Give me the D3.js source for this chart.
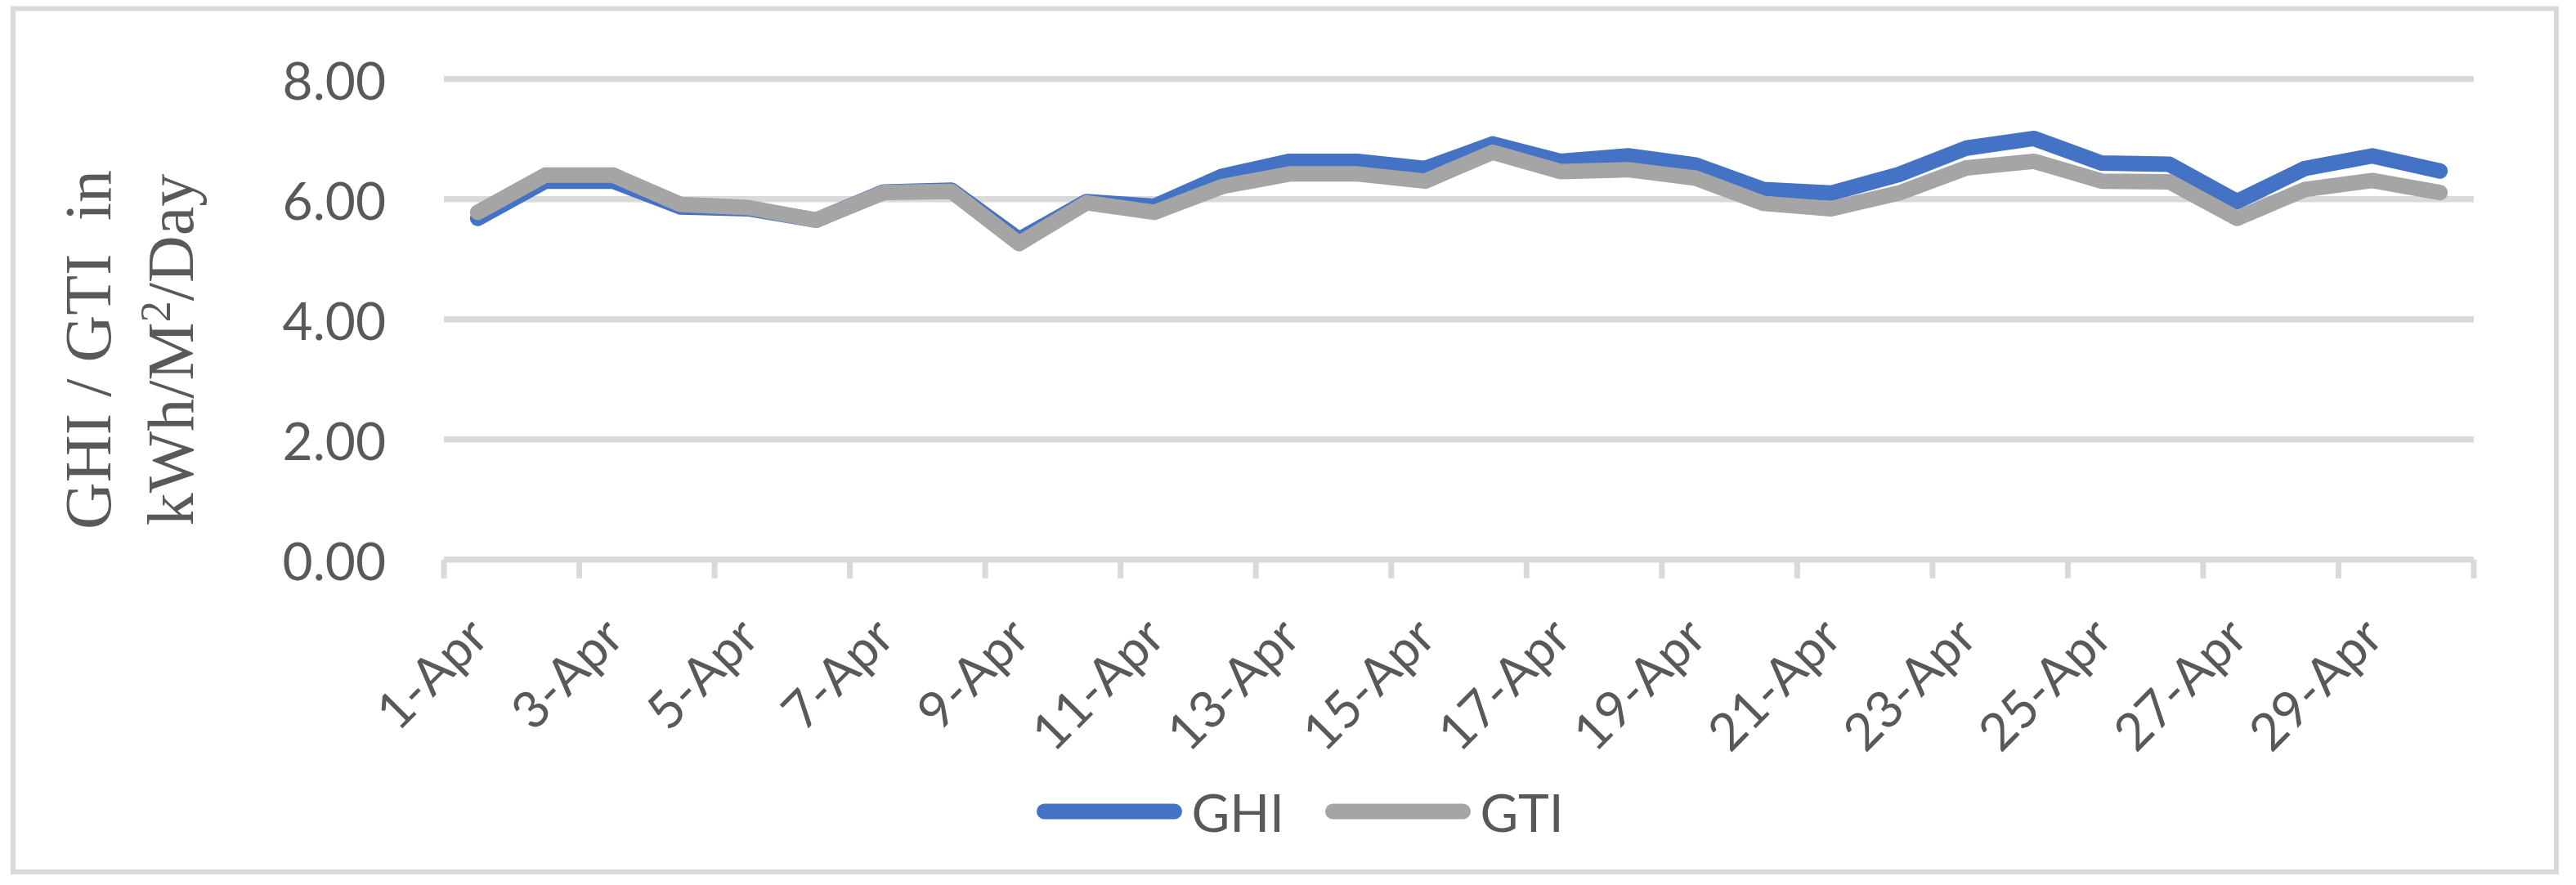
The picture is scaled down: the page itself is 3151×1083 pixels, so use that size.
<!DOCTYPE html>
<html>
<head>
<meta charset="utf-8">
<script src="https://cdn.jsdelivr.net/npm/d3@7"></script>
<style>
  html, body { margin: 0; padding: 0; background: #ffffff; }
  svg { display: block; }
</style>
</head>
<body>
<svg id="chart" width="3151" height="1083"></svg>
<script>
// ---------------- data ----------------
const days = ["1-Apr","2-Apr","3-Apr","4-Apr","5-Apr","6-Apr","7-Apr","8-Apr","9-Apr","10-Apr",
              "11-Apr","12-Apr","13-Apr","14-Apr","15-Apr","16-Apr","17-Apr","18-Apr","19-Apr","20-Apr",
              "21-Apr","22-Apr","23-Apr","24-Apr","25-Apr","26-Apr","27-Apr","28-Apr","29-Apr","30-Apr"];
const ghi = [5.68, 6.30, 6.30, 5.87, 5.84, 5.65, 6.12, 6.15, 5.33, 5.96,
             5.88, 6.38, 6.63, 6.63, 6.51, 6.92, 6.63, 6.72, 6.57, 6.16,
             6.10, 6.41, 6.85, 7.01, 6.60, 6.58, 5.96, 6.51, 6.72, 6.47];
const gti = [5.78, 6.40, 6.40, 5.91, 5.86, 5.65, 6.11, 6.13, 5.26, 5.94,
             5.78, 6.21, 6.42, 6.42, 6.30, 6.78, 6.46, 6.49, 6.35, 5.93,
             5.84, 6.10, 6.52, 6.63, 6.30, 6.29, 5.68, 6.16, 6.31, 6.11];
const yTicks = [0, 2, 4, 6, 8];
const xLabelDays = days.filter((d, i) => i % 2 === 0);
const seriesNames = ["GHI", "GTI"];
const seriesColors = ["#4472C4", "#A5A5A5"];

// ---------------- layout ----------------
const W = 3151, H = 1083;
const plot = { left: 543, right: 3026, top: 96.7, bottom: 684.7 };
const textColor = "#595959";
const gridColor = "#D9D9D9";
const sansFont = "Lato, 'Open Sans', sans-serif";
const serifFont = "'Liberation Serif', 'Times New Roman', serif";

const svg = d3.select("#chart");

// outer border
svg.append("rect")
  .attr("x", 16).attr("y", 10.5)
  .attr("width", 3127 - 16).attr("height", 1067 - 10.5)
  .attr("fill", "#ffffff")
  .attr("stroke", gridColor)
  .attr("stroke-width", 6);

const x = d3.scaleBand().domain(days).range([plot.left, plot.right]).padding(0);
const y = d3.scaleLinear().domain([0, 8]).range([plot.bottom, plot.top]);
const cx = d => x(d) + x.bandwidth() / 2;

// gridlines (excluding 0 which is the axis)
svg.append("g").selectAll("line")
  .data(yTicks.filter(v => v !== 0))
  .join("line")
  .attr("x1", plot.left).attr("x2", plot.right)
  .attr("y1", d => y(d)).attr("y2", d => y(d))
  .attr("stroke", gridColor).attr("stroke-width", 7.5);

// y tick labels via axis
const yAxis = d3.axisLeft(y).tickValues(yTicks).tickFormat(d3.format(".2f")).tickSize(0).tickPadding(0);
const yG = svg.append("g").attr("transform", `translate(${472},0)`).call(yAxis);
yG.select(".domain").remove();
yG.selectAll("text")
  .attr("x", 0).attr("dy", null)
  .attr("dominant-baseline", "central")
  .attr("text-anchor", "end")
  .style("font-family", sansFont)
  .style("font-size", "64px")
  .attr("fill", textColor);

// x axis line
svg.append("line")
  .attr("x1", plot.left).attr("x2", plot.right)
  .attr("y1", y(0)).attr("y2", y(0))
  .attr("stroke", gridColor).attr("stroke-width", 7.5);

// tick marks at every 2nd band boundary
const boundaries = days.filter((d, i) => i % 2 === 0).map(d => x(d)).concat([x.range()[1]]);
svg.append("g").selectAll("line")
  .data(boundaries)
  .join("line")
  .attr("x1", d => d).attr("x2", d => d)
  .attr("y1", y(0)).attr("y2", y(0) + 23)
  .attr("stroke", gridColor).attr("stroke-width", 7);

// x labels via axis (rotated)
const xAxis = d3.axisBottom(x).tickValues(xLabelDays).tickSize(0).tickPadding(0);
const xG = svg.append("g").attr("transform", `translate(0,0)`).call(xAxis);
xG.select(".domain").remove();
xG.selectAll(".tick").attr("transform", d => `translate(${cx(d) + 16},${783})`);
xG.selectAll("text")
  .attr("x", 0).attr("y", 0).attr("dy", null)
  .attr("text-anchor", "end")
  .attr("transform", "rotate(-45)")
  .style("font-family", sansFont)
  .style("font-size", "63px")
  .attr("fill", textColor);

// lines
const line = d3.line().x((v, i) => cx(days[i])).y(v => y(v));
[ghi, gti].forEach((vals, k) => {
  svg.append("path")
    .datum(vals)
    .attr("d", line)
    .attr("fill", "none")
    .attr("stroke", seriesColors[k])
    .attr("stroke-width", 19)
    .attr("stroke-linecap", "round")
    .attr("stroke-linejoin", "round");
});

// y-axis title (two lines, rotated)
const titleY = 428;
svg.append("text")
  .attr("transform", `translate(135,${titleY}) rotate(-90)`)
  .attr("text-anchor", "middle")
  .style("font-family", serifFont)
  .style("font-size", "80px")
  .style("white-space", "pre")
  .attr("xml:space", "preserve")
  .attr("fill", textColor)
  .text("GHI / GTI  in");
const t2 = svg.append("text")
  .attr("transform", `translate(236,${titleY}) rotate(-90)`)
  .attr("text-anchor", "middle")
  .style("font-family", serifFont)
  .style("font-size", "80px")
  .attr("fill", textColor);
t2.append("tspan").text("kWh/M");
t2.append("tspan").attr("font-size", "52px").attr("dy", -28).text("2");
t2.append("tspan").attr("dy", 28).text("/Day");

// legend
const legendY = 993;
const legendItems = [
  { name: seriesNames[0], color: seriesColors[0], x0: 1277.5 },
  { name: seriesNames[1], color: seriesColors[1], x0: 1630.5 }
];
const lg = svg.append("g");
legendItems.forEach(it => {
  lg.append("line")
    .attr("x1", it.x0).attr("x2", it.x0 + 159)
    .attr("y1", legendY).attr("y2", legendY)
    .attr("stroke", it.color).attr("stroke-width", 19)
    .attr("stroke-linecap", "round");
  lg.append("text")
    .attr("x", it.x0 + 180).attr("y", legendY)
    .attr("dominant-baseline", "central")
    .style("font-family", sansFont)
    .style("font-size", "64px")
    .attr("fill", textColor)
    .text(it.name);
});
</script>
</body>
</html>
